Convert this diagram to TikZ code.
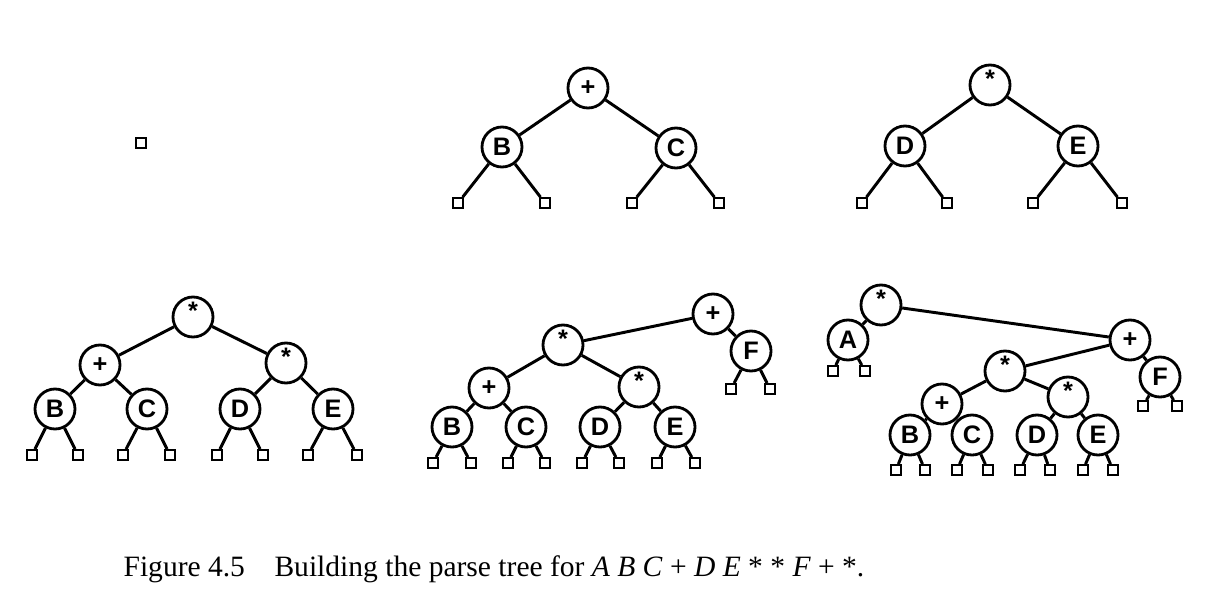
\documentclass[tikz,border=0pt]{standalone}
\usepackage{fontspec}
\setmainfont{Liberation Serif}
\newfontfamily\treefont{Liberation Sans}
\begin{document}
\begin{tikzpicture}[x=0.025cm,y=-0.025cm,
    op/.style={draw,circle,line width=2pt,minimum size=1.0cm,inner sep=0pt,
      font=\treefont\bfseries\fontsize{18}{18}\selectfont},
    starop/.style={op,text height=0.38cm,text depth=0.25cm},
    leaf/.style={draw,rectangle,line width=1.6pt,minimum size=0.24cm,inner sep=0pt},
    link/.style={line width=2.1pt}]
    \useasboundingbox (0,0) rectangle (1222,612);

    % empty tree
    \node[leaf] (a) at (141,143) {};

    % B C +
    \node[op] (bp) at (588,88) {+};
    \node[op] (bb) at (502,147) {B};
    \node[op] (bc) at (676,148) {C};
    \draw[link] (bp) -- (bb);
    \draw[link] (bp) -- (bc);
    \foreach \n/\x/\p in {b1/458/bb, b2/545/bb, b3/632/bc, b4/719/bc}{
      \node[leaf] (\n) at (\x,203) {};
      \draw[link] (\p) -- (\n);
    }

    % D E *
    \node[starop] (cs) at (990,85) {*};
    \node[op] (cd) at (905,146) {D};
    \node[op] (ce) at (1078,146) {E};
    \draw[link] (cs) -- (cd);
    \draw[link] (cs) -- (ce);
    \foreach \n/\x/\p in {c1/862/cd, c2/947/cd, c3/1033/ce, c4/1122/ce}{
      \node[leaf] (\n) at (\x,203) {};
      \draw[link] (\p) -- (\n);
    }

    % B C + D E * *
    \node[starop] (ds) at (193,317) {*};
    \node[op] (dp) at (100,365) {+};
    \node[starop] (dt) at (286,363) {*};
    \node[op] (db) at (55,409) {B};
    \node[op] (dc) at (147,409) {C};
    \node[op] (dd) at (240,409) {D};
    \node[op] (de) at (333,409) {E};
    \foreach \u/\v in {ds/dp, ds/dt, dp/db, dp/dc, dt/dd, dt/de}{
      \draw[link] (\u) -- (\v);
    }
    \foreach \n/\x/\p in {d1/32/db, d2/78/db, d3/123/dc, d4/170/dc,
        d5/217/dd, d6/263/dd, d7/308/de, d8/357/de}{
      \node[leaf] (\n) at (\x,455) {};
      \draw[link] (\p) -- (\n);
    }

    % ... F +
    \node[op] (ep) at (713,314) {+};
    \node[op] (ef) at (751,351) {F};
    \node[starop] (es) at (563,345) {*};
    \node[op] (eq) at (489,388) {+};
    \node[starop] (et) at (639,387) {*};
    \node[op] (eb) at (452,427) {B};
    \node[op] (ec) at (526,427) {C};
    \node[op] (ed) at (600,427) {D};
    \node[op] (ee) at (675,427) {E};
    \foreach \u/\v in {ep/es, ep/ef, es/eq, es/et, eq/eb, eq/ec, et/ed, et/ee}{
      \draw[link] (\u) -- (\v);
    }
    \foreach \n/\x/\p in {e1/433/eb, e2/471/eb, e3/508/ec, e4/545/ec,
        e5/582/ed, e6/619/ed, e7/657/ee, e8/695/ee}{
      \node[leaf] (\n) at (\x,463) {};
      \draw[link] (\p) -- (\n);
    }
    \node[leaf] (e9) at (731,389) {};
    \node[leaf] (e10) at (770,389) {};
    \draw[link] (ef) -- (e9);
    \draw[link] (ef) -- (e10);

    % A ... *
    \node[starop] (fs) at (881,305) {*};
    \node[op] (fa) at (848,340) {A};
    \node[op] (fp) at (1130,340) {+};
    \node[op] (ff) at (1160,377) {F};
    \node[starop] (ft) at (1005,371) {*};
    \node[op] (fq) at (942,404) {+};
    \node[starop] (fu) at (1068,397) {*};
    \node[op] (fb) at (910,435) {B};
    \node[op] (fc) at (972,435) {C};
    \node[op] (fd) at (1037,435) {D};
    \node[op] (fe) at (1098,435) {E};
    \foreach \u/\v in {fs/fa, fs/fp, fp/ft, fp/ff, ft/fq, ft/fu,
        fq/fb, fq/fc, fu/fd, fu/fe}{
      \draw[link] (\u) -- (\v);
    }
    \foreach \n/\x/\p in {f1/896/fb, f2/925/fb, f3/957/fc, f4/988/fc,
        f5/1020/fd, f6/1050/fd, f7/1083/fe, f8/1113/fe}{
      \node[leaf] (\n) at (\x,470) {};
      \draw[link] (\p) -- (\n);
    }
    \foreach \n/\x/\y/\p in {f9/833/371/fa, f10/865/371/fa,
        f11/1143/406/ff, f12/1177/406/ff}{
      \node[leaf] (\n) at (\x,\y) {};
      \draw[link] (\p) -- (\n);
    }

    % caption
    \node[font=\fontsize{21}{21}\selectfont] (cap) at (494,569)
      {Figure 4.5\quad Building the parse tree for \textit{A B C} + \textit{D E} * * \textit{F} + *.};
\end{tikzpicture}
\end{document}
